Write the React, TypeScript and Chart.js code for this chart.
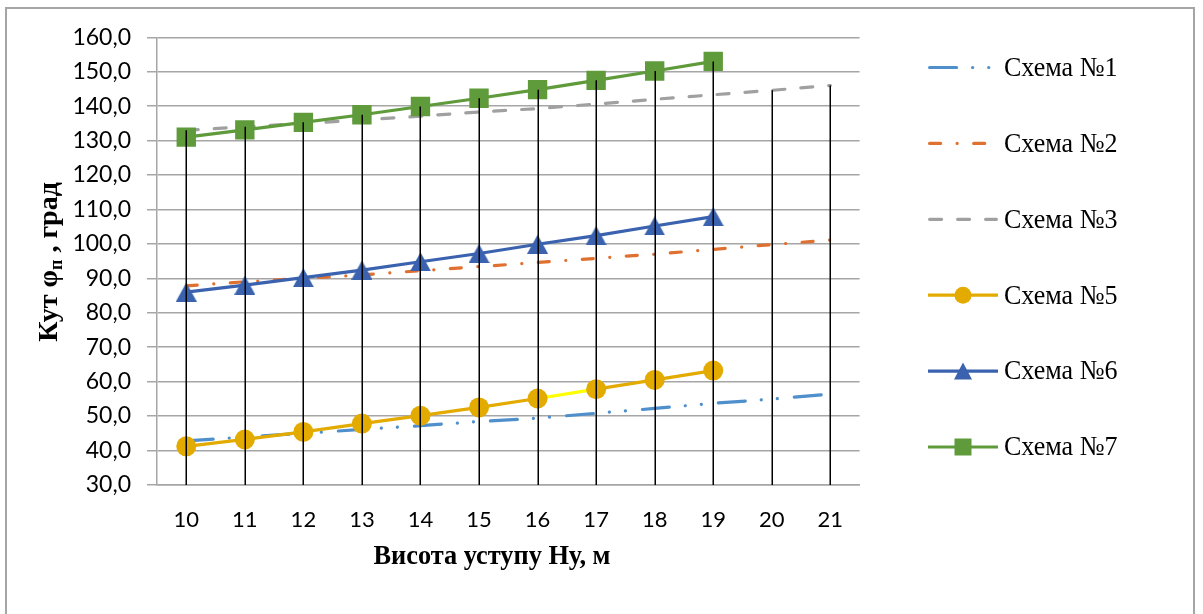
import React, { useEffect, useRef } from 'react';
import { Chart, registerables } from 'chart.js';

Chart.register(...registerables);

// Bench height, m
const heights = ['10', '11', '12', '13', '14', '15', '16', '17', '18', '19', '20', '21'];

// Angle φп, degrees, per scheme
const scheme1 = [42.8, 43.9, 45.0, 46.1, 47.2, 48.4, 49.4, 50.8, 52.2, 53.7, 54.9, 56.4];
const scheme2 = [87.8, 89.0, 90.0, 91.0, 92.2, 93.4, 94.6, 95.8, 97.0, 98.4, 99.8, 101.1];
const scheme3 = [133.0, 134.0, 135.0, 136.0, 137.1, 138.3, 139.3, 140.6, 142.0, 143.3, 144.6, 146.0];
const scheme5 = [41.2, 43.2, 45.4, 47.8, 50.1, 52.5, 55.1, 57.8, 60.5, 63.2];
const scheme6 = [86.0, 88.0, 90.2, 92.4, 94.8, 97.2, 99.9, 102.4, 105.2, 107.9];
const scheme7 = [131.0, 133.1, 135.3, 137.5, 139.9, 142.3, 144.8, 147.5, 150.2, 153.0];

const seriesNames = ['Схема №1', 'Схема №2', 'Схема №3', 'Схема №5', 'Схема №6', 'Схема №7'];

const yMin = 30;
const yMax = 160;
const yStep = 10;

const xTitle = 'Висота уступу Ну, м';
const yTitleMain = 'Кут φ';
const yTitleSub = 'п';
const yTitleRest = ' , град';

const C1 = '#4f8fcb';
const C2 = '#e07030';
const C3 = '#a0a0a0';
const C5 = '#e3aa00';
const C5_ALT = '#ffff00';
const C6 = '#3a62ae';
const C7 = '#5f9a3b';

const GRID = '#a6a6a6';
const SERIF = '"Liberation Serif", "Times New Roman", serif';
const SANS = 'Lato, "Open Sans", sans-serif';

// triangle drawn so that its bounding box is centred on the point
function makeTriangle(w: number, h: number, color: string): HTMLCanvasElement {
  const c = document.createElement('canvas');
  c.width = w;
  c.height = h;
  const g = c.getContext('2d')!;
  g.fillStyle = color;
  g.beginPath();
  g.moveTo(w / 2, 0);
  g.lineTo(w, h);
  g.lineTo(0, h);
  g.closePath();
  g.fill();
  return c;
}

type LegendSpec = {
  color: string;
  dash: number[];
  marker: 'none' | 'circle' | 'triangle' | 'square';
};

const legendSpecs: LegendSpec[] = [
  { color: C1, dash: [27, 16, 0.1, 16, 0.1, 17], marker: 'none' },
  { color: C2, dash: [11, 16.5, 0.1, 16.5], marker: 'none' },
  { color: C3, dash: [12, 16], marker: 'none' },
  { color: C5, dash: [], marker: 'circle' },
  { color: C6, dash: [], marker: 'triangle' },
  { color: C7, dash: [], marker: 'square' },
];

const dropLines = {
  id: 'dropLines',
  afterDatasetsDraw(chart: any) {
    const { ctx, chartArea, scales } = chart;
    const xs = scales.x;
    const ys = scales.y;
    const all = [scheme1, scheme2, scheme3, scheme5, scheme6, scheme7];
    ctx.save();
    ctx.strokeStyle = '#000';
    ctx.lineWidth = 1.5;
    heights.forEach((_, i) => {
      let top = -Infinity;
      all.forEach((s) => {
        if (s[i] !== undefined && s[i] > top) top = s[i];
      });
      if (!isFinite(top)) return;
      const x = Math.round(xs.getPixelForValue(i)) + 0.25;
      ctx.beginPath();
      ctx.moveTo(x, ys.getPixelForValue(top));
      ctx.lineTo(x, chartArea.bottom);
      ctx.stroke();
    });
    ctx.restore();
  },
};

// text drawn slightly condensed, like the narrow serif of the labels
function condensedText(ctx: CanvasRenderingContext2D, text: string, x: number, y: number, sx: number) {
  ctx.save();
  ctx.translate(x, y);
  ctx.scale(sx, 1);
  ctx.fillText(text, 0, 0);
  ctx.restore();
}

const decorations = {
  id: 'decorations',
  afterDraw(chart: any) {
    const { ctx, chartArea } = chart;
    ctx.save();

    // x-axis title
    ctx.fillStyle = '#000';
    ctx.font = `bold 28px ${SERIF}`;
    ctx.textAlign = 'center';
    ctx.textBaseline = 'middle';
    condensedText(ctx, xTitle, 492, 557, 0.94);

    // y-axis title with subscript
    ctx.save();
    ctx.translate(48, 262);
    ctx.rotate(-Math.PI / 2);
    const big = `bold 28px ${SERIF}`;
    const small = `bold 18px ${SERIF}`;
    ctx.font = big;
    const w1 = ctx.measureText(yTitleMain).width;
    const w3 = ctx.measureText(yTitleRest).width;
    ctx.font = small;
    const w2 = ctx.measureText(yTitleSub).width;
    let x = -(w1 + w2 + w3) / 2;
    ctx.textAlign = 'left';
    ctx.textBaseline = 'alphabetic';
    ctx.font = big;
    ctx.fillText(yTitleMain, x, 9);
    x += w1;
    ctx.font = small;
    ctx.fillText(yTitleSub, x, 14);
    x += w2;
    ctx.font = big;
    ctx.fillText(yTitleRest, x, 9);
    ctx.restore();

    // legend
    const x0 = 928;
    const x1 = 998;
    const yStart = 67.5;
    const yGap = 75.9;
    legendSpecs.forEach((spec, i) => {
      const y = yStart + i * yGap;
      ctx.save();
      ctx.strokeStyle = spec.color;
      ctx.fillStyle = spec.color;
      ctx.lineWidth = 3.2;
      if (spec.dash.length) {
        ctx.lineCap = 'round';
        ctx.setLineDash(spec.dash);
        ctx.beginPath();
        ctx.moveTo(x0 + 1.6, y);
        ctx.lineTo(x1 - 1.6, y);
        ctx.stroke();
      } else {
        ctx.lineCap = 'butt';
        ctx.beginPath();
        ctx.moveTo(x0, y);
        ctx.lineTo(x1, y);
        ctx.stroke();
        const cx = (x0 + x1) / 2;
        ctx.beginPath();
        if (spec.marker === 'circle') {
          ctx.arc(cx, y, 8.5, 0, Math.PI * 2);
        } else if (spec.marker === 'triangle') {
          ctx.moveTo(cx, y - 8.5);
          ctx.lineTo(cx + 9, y + 8.5);
          ctx.lineTo(cx - 9, y + 8.5);
          ctx.closePath();
        } else if (spec.marker === 'square') {
          ctx.rect(cx - 8.5, y - 8.5, 17, 17);
        }
        ctx.fill();
      }
      ctx.restore();

      ctx.fillStyle = '#000';
      ctx.font = `28px ${SERIF}`;
      ctx.textAlign = 'left';
      ctx.textBaseline = 'middle';
      condensedText(ctx, seriesNames[i], 1004, y + 1, 0.93);
    });

    ctx.restore();
  },
};

export default function App() {
  const ref = useRef<HTMLCanvasElement | null>(null);

  useEffect(() => {
    const canvas = ref.current;
    if (!canvas) return;
    const triangle = makeTriangle(21, 19, C6);

    const chart = new Chart(canvas, {
      type: 'line',
      data: {
        labels: heights,
        datasets: [
          {
            label: seriesNames[0],
            data: scheme1,
            borderColor: C1,
            backgroundColor: C1,
            borderWidth: 3.2,
            borderDash: [27, 16, 0.1, 16, 0.1, 17],
            borderCapStyle: 'round',
            pointRadius: 0,
            order: 5,
          },
          {
            label: seriesNames[1],
            data: scheme2,
            borderColor: C2,
            backgroundColor: C2,
            borderWidth: 3.2,
            borderDash: [11, 16.5, 0.1, 16.5],
            borderCapStyle: 'round',
            pointRadius: 0,
            order: 4,
          },
          {
            label: seriesNames[2],
            data: scheme3,
            borderColor: C3,
            backgroundColor: C3,
            borderWidth: 3.2,
            borderDash: [12, 16],
            borderCapStyle: 'round',
            pointRadius: 0,
            order: 3,
          },
          {
            label: seriesNames[3],
            data: scheme5,
            borderColor: C5,
            backgroundColor: C5,
            borderWidth: 3.2,
            pointStyle: 'circle',
            pointRadius: 10,
            pointBorderWidth: 0,
            pointBackgroundColor: C5,
            segment: {
              borderColor: (c: any) => (c.p0DataIndex === 6 ? C5_ALT : undefined),
            },
            order: 2,
          },
          {
            label: seriesNames[4],
            data: scheme6,
            borderColor: C6,
            backgroundColor: C6,
            borderWidth: 3.2,
            pointStyle: triangle,
            pointRadius: 10,
            pointBorderWidth: 0,
            order: 1,
          },
          {
            label: seriesNames[5],
            data: scheme7,
            borderColor: C7,
            backgroundColor: C7,
            borderWidth: 3.2,
            pointStyle: 'rect',
            pointRadius: 13.7,
            pointBorderWidth: 0,
            pointBackgroundColor: C7,
            order: 0,
          },
        ],
      },
      options: {
        animation: false,
        responsive: false,
        devicePixelRatio: 1,
        layout: { padding: { top: 37.3, right: 343.4, left: 0, bottom: 0 } },
        plugins: {
          legend: { display: false },
          tooltip: { enabled: false },
          title: { display: false },
        },
        elements: { line: { tension: 0 } },
        scales: {
          x: {
            type: 'category',
            offset: true,
            grid: { display: false, drawTicks: false, tickLength: 0 },
            border: { display: true, color: GRID, width: 1.5 },
            ticks: {
              color: '#000',
              font: { family: SANS, size: 22 },
              padding: 22,
              maxRotation: 0,
              autoSkip: false,
            },
            afterFit(scale: any) {
              scale.height = 614 - 484.9;
            },
          },
          y: {
            min: yMin,
            max: yMax,
            grid: { color: GRID, lineWidth: 1.5, drawTicks: true, tickLength: 10 },
            border: { display: true, color: GRID, width: 1.5 },
            ticks: {
              stepSize: yStep,
              color: '#000',
              font: { family: SANS, size: 23 },
              padding: 16,
              callback: (v: any) => Number(v).toFixed(1).replace('.', ','),
            },
            afterFit(scale: any) {
              scale.width = 157;
            },
          },
        },
      },
      plugins: [dropLines, decorations],
    });

    return () => chart.destroy();
  }, []);

  return (
    <div
      style={{
        position: 'absolute',
        left: 0,
        top: 0,
        width: 1203,
        height: 614,
        overflow: 'hidden',
        background: '#fff',
      }}
    >
      <canvas ref={ref} width={1203} height={614} style={{ position: 'absolute', left: 0, top: 0 }} />
      <div
        style={{
          position: 'absolute',
          left: 5,
          top: 7,
          width: 1190,
          height: 700,
          border: '2px solid #a5a5a5',
          boxSizing: 'border-box',
          pointerEvents: 'none',
        }}
      />
    </div>
  );
}
